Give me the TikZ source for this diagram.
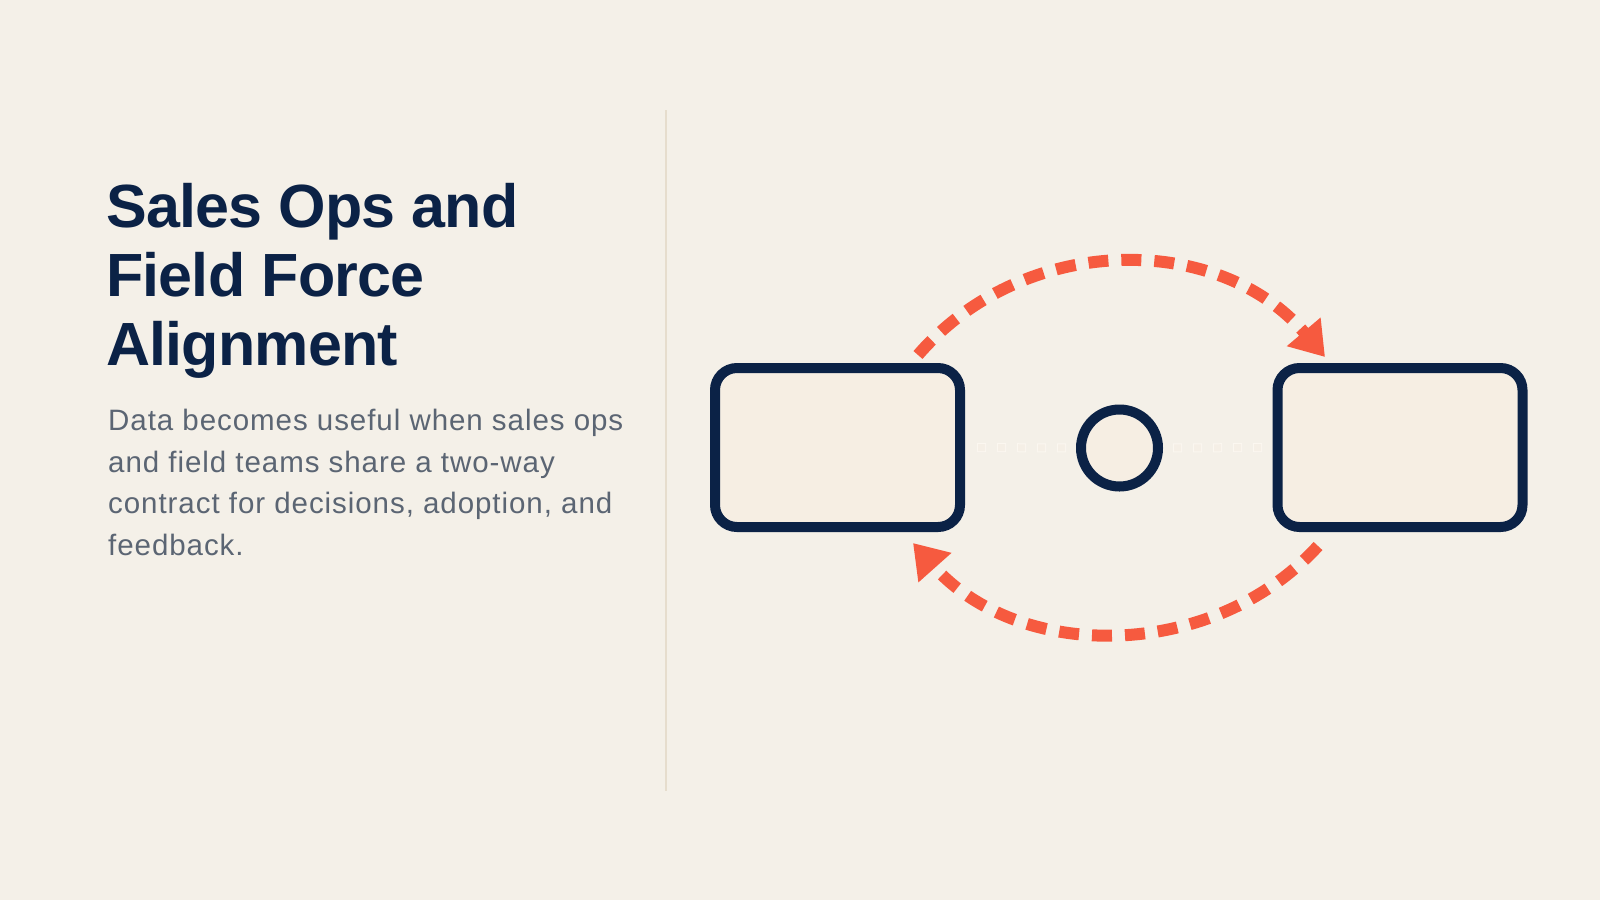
\documentclass[tikz,border=0pt]{standalone}
\usepackage{fontspec}
\setmainfont{Liberation Sans}
\usetikzlibrary{arrows.meta}
\definecolor{bg}{HTML}{F4F0E8}
\definecolor{navy}{HTML}{0B2246}
\definecolor{coral}{HTML}{F65A3F}
\definecolor{bodygray}{HTML}{5B6573}
\definecolor{boxfill}{HTML}{F6EEE3}
\definecolor{divider}{HTML}{E6DDCD}
\definecolor{faint}{HTML}{FBF7F0}
\definecolor{faintin}{HTML}{F5EFE6}
\tikzset{
  titletext/.style={anchor=base west, inner sep=0pt, text=navy, font=\fontsize{61}{69}\selectfont\bfseries\addfontfeature{LetterSpace=-1.3}},
  bodytext/.style={anchor=base west, inner sep=0pt, text=bodygray, font=\fontsize{29.5}{42}\selectfont\addfontfeature{LetterSpace=3.2}},
  panel/.style={draw=navy, line width=10pt, fill=boxfill, rounded corners=22pt, minimum width=245pt, minimum height=159pt, inner sep=0pt},
  hub/.style={draw=navy, line width=10pt, fill=boxfill, circle, minimum size=77pt, inner sep=0pt},
  flow/.style={draw=coral, line width=12pt, dash pattern=on 20pt off 13pt, -{Triangle[length=33pt,width=42pt]}},
  faintlink/.style={draw=faint, line width=9pt, dash pattern=on 9pt off 11pt},
  faintcore/.style={draw=faintin, line width=7pt, dash pattern=on 7pt off 13pt}
}
\begin{document}
\begin{tikzpicture}[x=1pt,y=-1pt]
\fill[bg] (0,0) rectangle (1600,900);
\useasboundingbox (0,0) rectangle (1600,900);
% divider
\draw[divider, line width=2pt] (666,110) -- (666,791);
% title
\node[titletext] (t1) at (106,227) {Sales Ops and};
\node[titletext] (t2) at (106,296) {Field Force};
\node[titletext] (t3) at (106,365) {Alignment};
% body
\node[bodytext] (b1) at (108,430) {Data becomes useful when sales ops};
\node[bodytext] (b2) at (108,472) {and field teams share a two-way};
\node[bodytext] (b3) at (108,513) {contract for decisions, adoption, and};
\node[bodytext] (b4) at (108,555) {feedback.};
% shapes
\node[panel] (lbox) at (837.5,447.5) {};
\node[panel] (rbox) at (1400,447.5) {};
\node[hub] (hub) at (1119.5,448) {};
% faint links
\draw[faintlink, shorten <=12pt, shorten >=9pt] (lbox.east) -- (hub.west);
\draw[faintcore, shorten <=13pt, shorten >=10pt] (lbox.east) -- (hub.west);
\draw[faintlink, shorten <=10pt, shorten >=8pt] (hub.east) -- (rbox.west);
\draw[faintcore, shorten <=11pt, shorten >=9pt] (hub.east) -- (rbox.west);
% arcs
\coordinate (topS) at (918,355);
\coordinate (topE) at (1325,357);
\coordinate (botS) at (1318,546);
\coordinate (botE) at (913,543);
\draw[flow] (topS) .. controls (1024,232) and (1219,232) .. (topE);
\draw[flow] (botS) .. controls (1212,662) and (1019,662) .. (botE);
\end{tikzpicture}
\end{document}
